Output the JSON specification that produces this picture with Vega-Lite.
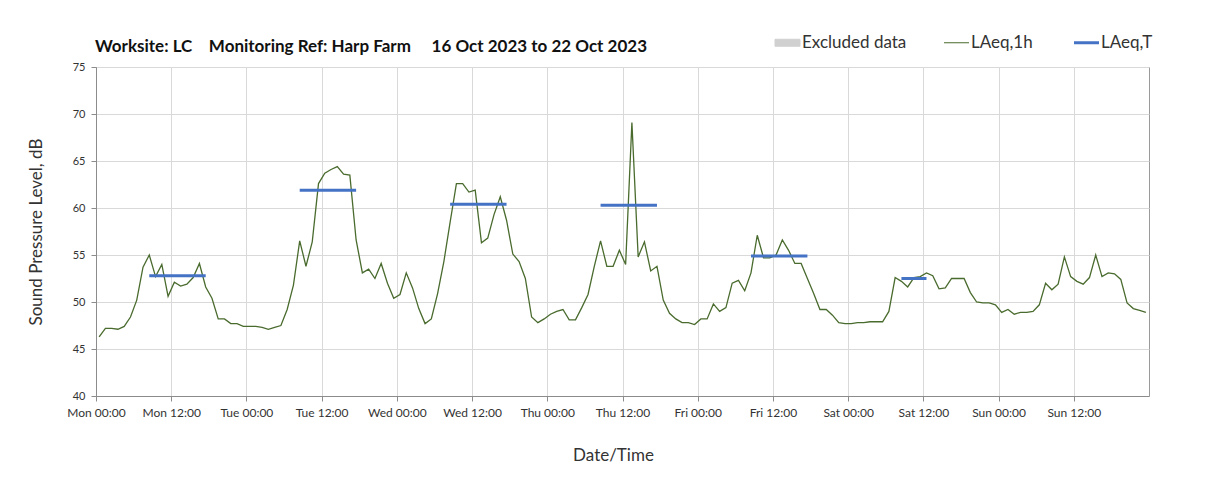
{
  "$schema": "https://vega.github.io/schema/vega-lite/v6.json",
  "autosize": {"type": "none"},
  "width": 1053,
  "height": 329,
  "padding": {"left": 96, "top": 67, "right": 59, "bottom": 93},
  "background": "white",
  "title": {
    "text": "Worksite: LC\u00a0\u00a0\u00a0\u00a0Monitoring Ref: Harp Farm\u00a0\u00a0\u00a0\u00a0\u00a016 Oct 2023 to 22 Oct 2023",
    "anchor": "start",
    "frame": "group",
    "offset": 22,
    "dy": 44,
    "dx": -1,
    "font": "Lato",
    "fontSize": 17,
    "fontWeight": "bold",
    "color": "#111111"
  },
  "config": {
    "view": {"stroke": "#9a9a9a", "strokeWidth": 1},
    "axis": {
      "labelFont": "Lato",
      "titleFont": "Lato",
      "labelColor": "#333333",
      "titleColor": "#333333",
      "titleFontWeight": "normal",
      "titleFontSize": 17,
      "gridColor": "#d9d9d9",
      "gridWidth": 1,
      "domainColor": "#8c8c8c",
      "tickColor": "#8c8c8c",
      "tickSize": 5
    },
    "legend": {"labelFont": "Lato"}
  },
  "layer": [
    {
      "data": {"values": [
        {"t":"2023-10-16T00:30","v":46.3},{"t":"2023-10-16T01:30","v":47.2},{"t":"2023-10-16T02:30","v":47.2},{"t":"2023-10-16T03:30","v":47.1},
        {"t":"2023-10-16T04:30","v":47.4},{"t":"2023-10-16T05:30","v":48.4},{"t":"2023-10-16T06:30","v":50.2},{"t":"2023-10-16T07:30","v":53.7},
        {"t":"2023-10-16T08:30","v":55.0},{"t":"2023-10-16T09:30","v":52.7},{"t":"2023-10-16T10:30","v":54.0},{"t":"2023-10-16T11:30","v":50.6},
        {"t":"2023-10-16T12:30","v":52.1},{"t":"2023-10-16T13:30","v":51.7},{"t":"2023-10-16T14:30","v":51.9},{"t":"2023-10-16T15:30","v":52.6},
        {"t":"2023-10-16T16:30","v":54.1},{"t":"2023-10-16T17:30","v":51.6},{"t":"2023-10-16T18:30","v":50.4},{"t":"2023-10-16T19:30","v":48.2},
        {"t":"2023-10-16T20:30","v":48.2},{"t":"2023-10-16T21:30","v":47.7},{"t":"2023-10-16T22:30","v":47.7},{"t":"2023-10-16T23:30","v":47.4},
        {"t":"2023-10-17T00:30","v":47.4},{"t":"2023-10-17T01:30","v":47.4},{"t":"2023-10-17T02:30","v":47.3},{"t":"2023-10-17T03:30","v":47.1},
        {"t":"2023-10-17T04:30","v":47.3},{"t":"2023-10-17T05:30","v":47.5},{"t":"2023-10-17T06:30","v":49.2},{"t":"2023-10-17T07:30","v":51.8},
        {"t":"2023-10-17T08:30","v":56.5},{"t":"2023-10-17T09:30","v":53.8},{"t":"2023-10-17T10:30","v":56.4},{"t":"2023-10-17T11:30","v":62.6},
        {"t":"2023-10-17T12:30","v":63.7},{"t":"2023-10-17T13:30","v":64.1},{"t":"2023-10-17T14:30","v":64.4},{"t":"2023-10-17T15:30","v":63.6},
        {"t":"2023-10-17T16:30","v":63.5},{"t":"2023-10-17T17:30","v":56.6},{"t":"2023-10-17T18:30","v":53.1},{"t":"2023-10-17T19:30","v":53.5},
        {"t":"2023-10-17T20:30","v":52.5},{"t":"2023-10-17T21:30","v":54.1},{"t":"2023-10-17T22:30","v":52.0},{"t":"2023-10-17T23:30","v":50.4},
        {"t":"2023-10-18T00:30","v":50.8},{"t":"2023-10-18T01:30","v":53.1},{"t":"2023-10-18T02:30","v":51.5},{"t":"2023-10-18T03:30","v":49.3},
        {"t":"2023-10-18T04:30","v":47.7},{"t":"2023-10-18T05:30","v":48.2},{"t":"2023-10-18T06:30","v":50.9},{"t":"2023-10-18T07:30","v":54.3},
        {"t":"2023-10-18T08:30","v":58.5},{"t":"2023-10-18T09:30","v":62.6},{"t":"2023-10-18T10:30","v":62.6},{"t":"2023-10-18T11:30","v":61.7},
        {"t":"2023-10-18T12:30","v":61.9},{"t":"2023-10-18T13:30","v":56.3},{"t":"2023-10-18T14:30","v":56.8},{"t":"2023-10-18T15:30","v":59.3},
        {"t":"2023-10-18T16:30","v":61.2},{"t":"2023-10-18T17:30","v":58.7},{"t":"2023-10-18T18:30","v":55.1},{"t":"2023-10-18T19:30","v":54.3},
        {"t":"2023-10-18T20:30","v":52.5},{"t":"2023-10-18T21:30","v":48.4},{"t":"2023-10-18T22:30","v":47.8},{"t":"2023-10-18T23:30","v":48.2},
        {"t":"2023-10-19T00:30","v":48.7},{"t":"2023-10-19T01:30","v":49.0},{"t":"2023-10-19T02:30","v":49.2},{"t":"2023-10-19T03:30","v":48.1},
        {"t":"2023-10-19T04:30","v":48.1},{"t":"2023-10-19T05:30","v":49.4},{"t":"2023-10-19T06:30","v":50.8},{"t":"2023-10-19T07:30","v":53.8},
        {"t":"2023-10-19T08:30","v":56.5},{"t":"2023-10-19T09:30","v":53.8},{"t":"2023-10-19T10:30","v":53.8},{"t":"2023-10-19T11:30","v":55.5},
        {"t":"2023-10-19T12:30","v":54.0},{"t":"2023-10-19T13:30","v":69.1},{"t":"2023-10-19T14:30","v":54.8},{"t":"2023-10-19T15:30","v":56.4},
        {"t":"2023-10-19T16:30","v":53.3},{"t":"2023-10-19T17:30","v":53.8},{"t":"2023-10-19T18:30","v":50.2},{"t":"2023-10-19T19:30","v":48.8},
        {"t":"2023-10-19T20:30","v":48.2},{"t":"2023-10-19T21:30","v":47.8},{"t":"2023-10-19T22:30","v":47.8},{"t":"2023-10-19T23:30","v":47.6},
        {"t":"2023-10-20T00:30","v":48.2},{"t":"2023-10-20T01:30","v":48.2},{"t":"2023-10-20T02:30","v":49.8},{"t":"2023-10-20T03:30","v":49.0},
        {"t":"2023-10-20T04:30","v":49.4},{"t":"2023-10-20T05:30","v":52.0},{"t":"2023-10-20T06:30","v":52.3},{"t":"2023-10-20T07:30","v":51.2},
        {"t":"2023-10-20T08:30","v":53.1},{"t":"2023-10-20T09:30","v":57.1},{"t":"2023-10-20T10:30","v":54.7},{"t":"2023-10-20T11:30","v":54.7},
        {"t":"2023-10-20T12:30","v":55.0},{"t":"2023-10-20T13:30","v":56.6},{"t":"2023-10-20T14:30","v":55.5},{"t":"2023-10-20T15:30","v":54.1},
        {"t":"2023-10-20T16:30","v":54.1},{"t":"2023-10-20T17:30","v":52.5},{"t":"2023-10-20T18:30","v":50.9},{"t":"2023-10-20T19:30","v":49.2},
        {"t":"2023-10-20T20:30","v":49.2},{"t":"2023-10-20T21:30","v":48.6},{"t":"2023-10-20T22:30","v":47.8},{"t":"2023-10-20T23:30","v":47.7},
        {"t":"2023-10-21T00:30","v":47.7},{"t":"2023-10-21T01:30","v":47.8},{"t":"2023-10-21T02:30","v":47.8},{"t":"2023-10-21T03:30","v":47.9},
        {"t":"2023-10-21T04:30","v":47.9},{"t":"2023-10-21T05:30","v":47.9},{"t":"2023-10-21T06:30","v":49.0},{"t":"2023-10-21T07:30","v":52.6},
        {"t":"2023-10-21T08:30","v":52.2},{"t":"2023-10-21T09:30","v":51.6},{"t":"2023-10-21T10:30","v":52.6},{"t":"2023-10-21T11:30","v":52.7},
        {"t":"2023-10-21T12:30","v":53.1},{"t":"2023-10-21T13:30","v":52.8},{"t":"2023-10-21T14:30","v":51.4},{"t":"2023-10-21T15:30","v":51.5},
        {"t":"2023-10-21T16:30","v":52.5},{"t":"2023-10-21T17:30","v":52.5},{"t":"2023-10-21T18:30","v":52.5},{"t":"2023-10-21T19:30","v":51.0},
        {"t":"2023-10-21T20:30","v":50.0},{"t":"2023-10-21T21:30","v":49.9},{"t":"2023-10-21T22:30","v":49.9},{"t":"2023-10-21T23:30","v":49.7},
        {"t":"2023-10-22T00:30","v":48.9},{"t":"2023-10-22T01:30","v":49.2},{"t":"2023-10-22T02:30","v":48.7},{"t":"2023-10-22T03:30","v":48.9},
        {"t":"2023-10-22T04:30","v":48.9},{"t":"2023-10-22T05:30","v":49.0},{"t":"2023-10-22T06:30","v":49.7},{"t":"2023-10-22T07:30","v":52.0},
        {"t":"2023-10-22T08:30","v":51.3},{"t":"2023-10-22T09:30","v":51.9},{"t":"2023-10-22T10:30","v":54.8},{"t":"2023-10-22T11:30","v":52.7},
        {"t":"2023-10-22T12:30","v":52.2},{"t":"2023-10-22T13:30","v":51.9},{"t":"2023-10-22T14:30","v":52.6},{"t":"2023-10-22T15:30","v":55.0},
        {"t":"2023-10-22T16:30","v":52.7},{"t":"2023-10-22T17:30","v":53.1},{"t":"2023-10-22T18:30","v":53.0},{"t":"2023-10-22T19:30","v":52.4},
        {"t":"2023-10-22T20:30","v":49.9},{"t":"2023-10-22T21:30","v":49.3},{"t":"2023-10-22T22:30","v":49.1},{"t":"2023-10-22T23:30","v":48.9}
      ]},
      "mark": {"type": "line", "strokeWidth": 1.3},
      "encoding": {
        "x": {
          "field": "t", "type": "temporal",
          "scale": {"domain": [{"year": 2023, "month": 10, "date": 16, "hours": 0}, {"year": 2023, "month": 10, "date": 23, "hours": 0}], "nice": false},
          "axis": {
            "title": "Date/Time",
            "titleX": 517,
            "values": [
              {"year": 2023, "month": 10, "date": 16, "hours": 0}, {"year": 2023, "month": 10, "date": 16, "hours": 12},
              {"year": 2023, "month": 10, "date": 17, "hours": 0}, {"year": 2023, "month": 10, "date": 17, "hours": 12},
              {"year": 2023, "month": 10, "date": 18, "hours": 0}, {"year": 2023, "month": 10, "date": 18, "hours": 12},
              {"year": 2023, "month": 10, "date": 19, "hours": 0}, {"year": 2023, "month": 10, "date": 19, "hours": 12},
              {"year": 2023, "month": 10, "date": 20, "hours": 0}, {"year": 2023, "month": 10, "date": 20, "hours": 12},
              {"year": 2023, "month": 10, "date": 21, "hours": 0}, {"year": 2023, "month": 10, "date": 21, "hours": 12},
              {"year": 2023, "month": 10, "date": 22, "hours": 0}, {"year": 2023, "month": 10, "date": 22, "hours": 12}
            ],
            "format": "%a %H:%M",
            "labelFontSize": 12,
            "labelPadding": 6,
            "labelFlush": false,
            "labelOverlap": false,
            "titlePadding": 29
          }
        },
        "y": {
          "field": "v", "type": "quantitative",
          "scale": {"domain": [40, 75], "nice": false, "zero": false},
          "axis": {
            "title": "Sound Pressure Level, dB",
            "values": [40, 45, 50, 55, 60, 65, 70, 75],
            "labelFontSize": 11,
            "labelPadding": 6,
            "titlePadding": 27
          }
        },
        "color": {
          "datum": "LAeq,1h",
          "scale": {
            "domain": ["Excluded data", "LAeq,1h", "LAeq,T"],
            "range": ["#d0d0d0", "#4a6b2e", "#4472c4"]
          },
          "legend": {
            "title": null,
            "orient": "none",
            "direction": "horizontal",
            "legendX": 683,
            "legendY": -33,
            "padding": 0,
            "labelFontSize": 17,
            "labelColor": "#333333",
            "labelOffset": 6,
            "columnPadding": 35,
            "symbolSize": 625,
            "encode": {
              "symbols": {
                "update": {
                  "shape": {"signal": "datum.value === 'Excluded data' ? 'M-1,-0.28H1V0.28H-1Z' : 'stroke'"},
                  "fill": {"signal": "datum.value === 'Excluded data' ? '#d0d0d0' : 'transparent'"},
                  "stroke": {"signal": "datum.value === 'Excluded data' ? 'transparent' : (datum.value === 'LAeq,T' ? '#4472c4' : '#4a6b2e')"},
                  "strokeWidth": {"signal": "datum.value === 'LAeq,T' ? 3 : 1"}
                }
              }
            }
          }
        }
      }
    },
    {
      "data": {"values": [
        {"a":"2023-10-16T08:30","b":"2023-10-16T17:30","v":52.8},
        {"a":"2023-10-17T08:30","b":"2023-10-17T17:30","v":61.9},
        {"a":"2023-10-18T08:30","b":"2023-10-18T17:30","v":60.4},
        {"a":"2023-10-19T08:30","b":"2023-10-19T17:30","v":60.3},
        {"a":"2023-10-20T08:30","b":"2023-10-20T17:30","v":54.9},
        {"a":"2023-10-21T08:30","b":"2023-10-21T12:30","v":52.5}
      ]},
      "mark": {"type": "rule", "strokeWidth": 3, "strokeCap": "butt"},
      "encoding": {
        "x": {"field": "a", "type": "temporal"},
        "x2": {"field": "b"},
        "y": {"field": "v", "type": "quantitative"},
        "color": {"datum": "LAeq,T"}
      }
    }
  ]
}
